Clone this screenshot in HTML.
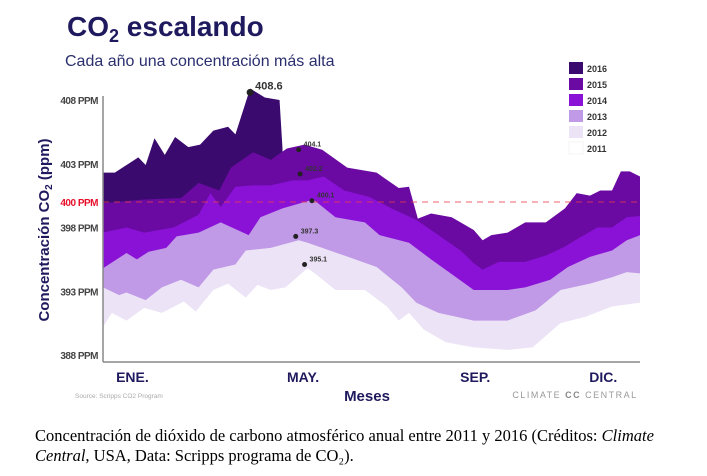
<!DOCTYPE html>
<html><head><meta charset="utf-8">
<style>
body{margin:0;background:#fff;width:707px;height:476px;overflow:hidden;font-family:"Liberation Sans",sans-serif;}
.cap{position:absolute;left:35px;top:426px;width:665px;font-family:"Liberation Serif",serif;font-size:16.5px;line-height:20px;color:#000;}
</style></head><body>
<svg id="chart" width="707" height="420" style="position:absolute;left:0;top:0" xmlns="http://www.w3.org/2000/svg">
<text x="67" y="36" font-size="28" font-weight="bold" fill="#1f1a5e">CO<tspan font-size="18" dy="6">2</tspan><tspan dy="-6"> escalando</tspan></text>
<text x="65" y="66" font-size="16" fill="#2b2f6e">Cada año una concentración más alta</text>
<g id="areas"></g><g id="axes"></g><g id="marks"></g><g id="legend"></g>
<text transform="translate(49,230) rotate(-90)" text-anchor="middle" font-size="15" font-weight="bold" fill="#1f1a5e">Concentración CO<tspan font-size="10" dy="3">2</tspan><tspan dy="-3"> (ppm)</tspan></text>
<text x="367" y="401" text-anchor="middle" font-size="15" font-weight="bold" fill="#1f1a5e">Meses</text>
<text x="75" y="398" font-size="6.5" fill="#aaa">Source: Scripps CO2 Program</text>
<text x="575" y="398" text-anchor="middle" font-size="9" fill="#999" letter-spacing="1.5">CLIMATE <tspan font-weight="bold" fill="#888">CC</tspan> CENTRAL</text>
</svg>
<div class="cap">Concentración de dióxido de carbono atmosférico anual entre 2011 y 2016 (Créditos: <i>Climate Central</i>, USA, Data: Scripps programa de CO₂).</div>
<script>
const years=["2016","2015","2014","2013","2012","2011"];
const colors=["#3b0a6e","#6a0aa3","#8a12d6","#c09ae6","#ece4f6","#ffffff"];
const d2016=[0,8,16,24,29,35,42,49,58,66,75,85,90,100,110,120,122];
const v2016=[402.3,402.3,402.9,403.5,402.9,405.0,403.7,405.1,404.3,404.5,405.6,405.9,405.3,408.9,408.2,408.0,404.2];
const d2015=[0,28,53,65,79,87,102,114,125,137,149,166,186,201,208,214,223,237,252,258,264,275,287,301,314,322,331,338,346,352,358,365];
const v2015=[399.9,400.2,400.3,401.5,400.9,402.7,403.9,403.3,404.2,404.5,404.1,402.7,402.3,401.1,401.2,398.7,399.1,398.8,397.8,397.0,397.4,397.6,398.4,398.4,399.5,400.7,400.5,400.9,400.9,402.4,402.4,402.0];
const d2014=[0,16,28,48,65,73,80,90,102,114,129,139,150,164,181,196,213,228,243,252,258,269,287,301,314,321,336,346,356,365];
const v2014=[397.6,398.0,397.6,398.0,399.0,400.7,399.6,401.2,401.3,401.3,401.7,401.7,402.0,400.9,400.4,399.5,398.6,397.4,396.2,395.2,394.7,395.3,395.3,395.8,396.5,397.0,398.0,398.0,398.8,398.9];
const d2013=[0,16,23,31,43,50,65,80,99,107,122,143,158,178,188,208,223,240,252,264,275,287,304,316,331,346,356,365];
const v2013=[394.8,396.0,395.5,396.1,396.4,397.3,397.6,398.4,397.4,398.8,399.5,400.2,398.8,398.4,397.4,396.8,395.5,394.1,393.1,393.1,393.1,393.3,393.9,394.9,395.7,396.2,397.0,397.4];
const d2012=[0,11,16,29,40,53,65,75,90,97,114,133,139,164,186,203,213,228,252,275,294,311,331,346,356,365];
const v2012=[393.3,392.7,392.9,392.3,393.3,393.9,393.3,394.7,395.1,396.2,396.4,397.0,396.8,395.8,394.9,393.3,392.1,391.3,390.7,390.7,391.5,393.1,393.6,394.1,394.5,394.4];
const d2011=[0,6,16,28,40,55,63,75,85,97,105,114,124,139,144,158,178,193,201,208,218,233,252,275,292,311,328,346,365];
const v2011=[390.2,391.3,390.7,391.7,391.3,392.2,391.4,393.1,393.6,392.5,393.5,393.1,393.3,394.8,394.4,393.1,393.1,391.8,390.7,391.3,390.0,389.0,388.6,388.4,388.6,390.5,391.0,391.8,392.1];
const yTicks=[408,403,400,398,393,388];
const monthLabels=["ENE.","MAY.","SEP.","DIC."];
const monthDays=[20,136,253,340];
const markerDays=[100,133,134,142,131,137];
const markerVals=[408.6,404.1,402.2,400.1,397.3,395.1];

const NS="http://www.w3.org/2000/svg";
const X0=103,X1=640,YB=362;
const xS=d=>X0+d/365*(X1-X0);
const yS=v=>355-(v-388)*12.75;
function mk(t,a,p){const e=document.createElementNS(NS,t);for(const k in a)e.setAttribute(k,a[k]);p.appendChild(e);return e;}
const series=[[d2016,v2016],[d2015,v2015],[d2014,v2014],[d2013,v2013],[d2012,v2012],[d2011,v2011]];
const areas=document.getElementById('areas');
series.forEach((s,i)=>{
  const [ds,vs]=s;
  let p=`M${xS(ds[0])},${YB}`;
  ds.forEach((d,j)=>{p+=` L${xS(d)},${yS(vs[j])}`;});
  p+=` L${xS(ds[ds.length-1])},${YB} Z`;
  const e=mk('path',{d:p,fill:colors[i]},areas);
  
  
});
const axes=document.getElementById('axes');
const ref=mk('line',{x1:X0,x2:X1,y1:yS(400),y2:yS(400),stroke:'#e83a4a','stroke-width':1,'stroke-dasharray':'6,5','stroke-opacity':0.8},axes);


const ya=mk('line',{x1:X0,x2:X0,y1:96,y2:YB,stroke:'#888','stroke-width':1.5},axes);


const xa=mk('line',{x1:X0,x2:X1,y1:YB,y2:YB,stroke:'#888','stroke-width':1.5},axes);


yTicks.forEach(v=>{
  const t=mk('text',{x:98,y:yS(v)+4,'text-anchor':'end','font-size':10,'font-weight':'bold',fill:v===400?'#e8102a':'#444',style:'letter-spacing:-0.5px'},axes);
  t.textContent=v+' PPM';
  
  
});
monthLabels.forEach((m,i)=>{
  const t=mk('text',{x:xS(monthDays[i]),y:382,'text-anchor':'middle','font-size':14,'font-weight':'bold',fill:'#1f1a5e'},axes);
  t.textContent=m;
  
  
});
const marks=document.getElementById('marks');
markerDays.forEach((d,i)=>{
  const big=i===0;
  const c=mk('circle',{cx:xS(d),cy:yS(markerVals[i]),r:big?3.5:2.5,fill:'#222'},marks);
  
  
  const t=mk('text',{x:xS(d)+5,y:yS(markerVals[i])-3,'font-size':big?11:7,'font-weight':'bold',fill:'#333'},marks);
  t.textContent=markerVals[i].toFixed(1);
  
  
});
const lg=document.getElementById('legend');
years.forEach((y,i)=>{
  const yy=62+i*16;
  const r=mk('rect',{x:569,y:yy,width:14,height:12,fill:colors[i],stroke:i===5?'#f4f4f4':'none'},lg);
  
  
  const t=mk('text',{x:587,y:yy+10,'font-size':9,'font-weight':'bold',fill:'#333'},lg);
  t.textContent=y;
  
  
});
</script>
</body></html>
